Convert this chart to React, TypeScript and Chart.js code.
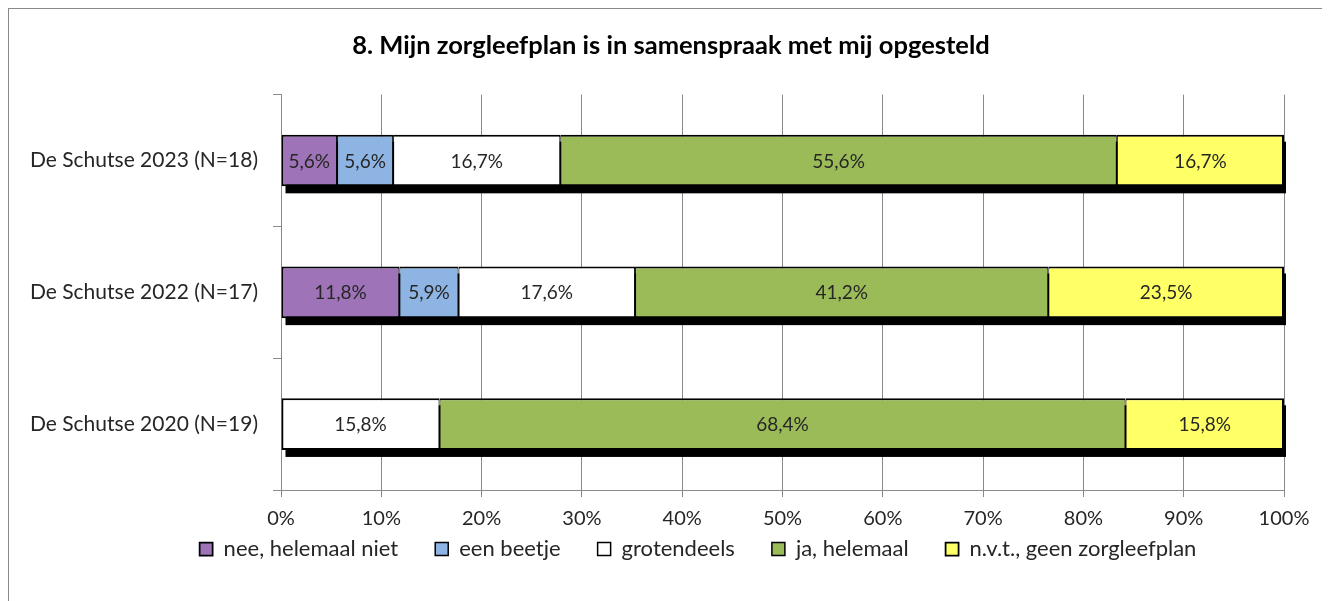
import React, { useEffect, useRef } from "react";
import { Chart, registerables } from "chart.js";

Chart.register(...registerables);

const categories = ["De Schutse 2023 (N=18)", "De Schutse 2022 (N=17)", "De Schutse 2020 (N=19)"];
const seriesNames = ["nee, helemaal niet", "een beetje", "grotendeels", "ja, helemaal", "n.v.t., geen zorgleefplan"];
const neeValues = [5.6, 11.8, 0];
const beetjeValues = [5.6, 5.9, 0];
const grotendeelsValues = [16.7, 17.6, 15.8];
const jaValues = [55.6, 41.2, 68.4];
const nvtValues = [16.7, 23.5, 15.8];
const xTicks = [0, 10, 20, 30, 40, 50, 60, 70, 80, 90, 100];
const title = "8. Mijn zorgleefplan is in samenspraak met mij opgesteld";

const colors = ["#9E73B7", "#8DB4E2", "#FFFFFF", "#9BBB59", "#FFFF66"];
const FONT = "Lato, 'Open Sans', sans-serif";
const TEXT = "#262626";
const GRID = "#898989";

const raw = [neeValues, beetjeValues, grotendeelsValues, jaValues, nvtValues];
// 100% stacked: normalise each row like the spreadsheet does
const rowSums = categories.map((_, i) => raw.reduce((s, arr) => s + arr[i], 0));

const fmt = (v: number) => v.toFixed(1).replace(".", ",") + "%";

const isFirst = (di: number, i: number) => raw.findIndex((arr) => arr[i] > 0) === di;
const isLast = (di: number, i: number) => {
  let last = -1;
  raw.forEach((arr, k) => {
    if (arr[i] > 0) last = k;
  });
  return last === di;
};

const shadowPlugin = {
  id: "barShadow",
  beforeDatasetsDraw(chart: any) {
    const ctx = chart.ctx;
    ctx.save();
    ctx.fillStyle = "#000";
    categories.forEach((_, i) => {
      let minX = Infinity;
      let maxX = -Infinity;
      let top = 0;
      let h = 0;
      chart.data.datasets.forEach((__: any, di: number) => {
        if (!raw[di][i]) return;
        const el = chart.getDatasetMeta(di).data[i];
        if (!el) return;
        minX = Math.min(minX, el.x, el.base);
        maxX = Math.max(maxX, el.x, el.base);
        top = el.y - el.height / 2;
        h = el.height;
      });
      if (minX < maxX) ctx.fillRect(minX + 4, top + 7, maxX - minX - 2, h);
    });
    ctx.restore();
  },
};

const labelPlugin = {
  id: "valueLabels",
  afterDatasetsDraw(chart: any) {
    const ctx = chart.ctx;
    ctx.save();
    ctx.font = `19px ${FONT}`;
    ctx.fillStyle = TEXT;
    ctx.textAlign = "center";
    ctx.textBaseline = "middle";
    chart.data.datasets.forEach((_: any, di: number) => {
      const meta = chart.getDatasetMeta(di);
      meta.data.forEach((el: any, i: number) => {
        const v = raw[di][i];
        if (!v) return;
        ctx.fillText(fmt(v), (el.x + el.base) / 2, el.y + 1);
      });
    });
    ctx.restore();
  },
};

const legendShift = {
  id: "legendShift",
  afterLayout(chart: any) {
    const lg = chart.legend;
    if (lg) {
      lg.left += 27;
      lg.right += 27;
      lg.top -= 34;
      lg.bottom -= 34;
    }
  },
};

export default function App() {
  const ref = useRef<HTMLCanvasElement | null>(null);

  useEffect(() => {
    document.body.style.overflow = "hidden";
    const canvas = ref.current;
    if (!canvas) return;
    const chart = new Chart(canvas, {
      type: "bar",
      data: {
        labels: categories,
        datasets: raw.map((arr, di) => ({
          label: seriesNames[di],
          data: arr.map((v, i) => (v / rowSums[i]) * 100),
          backgroundColor: colors[di],
          borderColor: "#000",
          borderWidth: (c: any) => {
            const i = c.dataIndex;
            if (i === undefined) return 2;
            return {
              top: 2,
              bottom: 2,
              left: isFirst(di, i) ? 2 : 1,
              right: isLast(di, i) ? 2 : 1,
            };
          },
          borderSkipped: false,
          barPercentage: 0.8,
          categoryPercentage: 0.49,
        })),
      },
      options: {
        indexAxis: "y",
        responsive: false,
        animation: false,
        events: [],
        layout: { padding: { left: 9, right: 0, top: 0, bottom: 3 } },
        scales: {
          x: {
            stacked: true,
            min: 0,
            max: 100,
            afterBuildTicks(scale: any) {
              scale.ticks = xTicks.map((v) => ({ value: v }));
            },
            afterFit(scale: any) {
              scale.height = 45;
              scale.paddingRight = 40;
            },
            ticks: {
              callback: (v: any) => `${v}%`,
              font: { family: FONT, size: 20 },
              color: TEXT,
              padding: 10,
              maxRotation: 0,
              autoSkip: false,
            },
            grid: { color: GRID, lineWidth: 1, tickLength: 7, drawTicks: true },
            border: { color: GRID, width: 1 },
          },
          y: {
            stacked: true,
            afterFit(scale: any) {
              scale.width = 263;
            },
            ticks: {
              font: { family: FONT, size: 21 },
              color: TEXT,
              padding: 15,
            },
            grid: {
              offset: true,
              drawOnChartArea: false,
              drawTicks: true,
              tickLength: 8,
              color: GRID,
            },
            border: { color: GRID, width: 1 },
          },
        },
        plugins: {
          title: {
            display: true,
            text: title,
            color: "#000",
            font: { family: FONT, size: 25.5, weight: "bold" },
            padding: { top: 21, bottom: 34 },
          },
          legend: {
            position: "bottom",
            labels: {
              font: { family: FONT, size: 22 },
              color: TEXT,
              boxWidth: 13,
              boxHeight: 13,
              padding: 37,
            },
          },
          tooltip: { enabled: false },
        },
      },
      plugins: [shadowPlugin, labelPlugin, legendShift],
    } as any);
    return () => chart.destroy();
  }, []);

  return (
    <div
      style={{
        width: 1317,
        height: 620,
        border: "1px solid #898989",
        boxSizing: "border-box",
        background: "#fff",
      }}
    >
      <canvas ref={ref} width={1315} height={598} style={{ display: "block" }} />
    </div>
  );
}
